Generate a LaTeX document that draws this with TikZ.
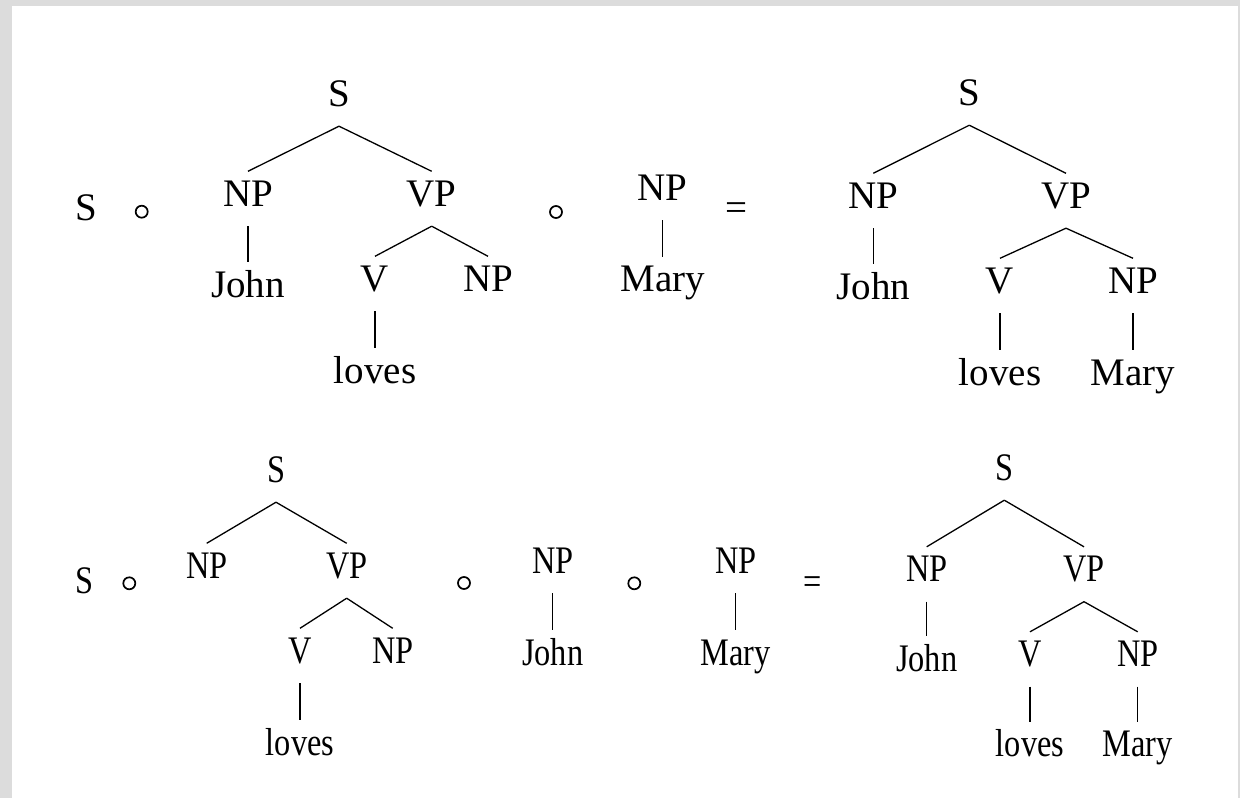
\documentclass[tikz,border=0pt]{standalone}
\usepackage{fontspec}
\setmainfont{Liberation Serif}
\newfontfamily\narrowfont[FakeStretch=0.83]{Liberation Serif}
\definecolor{bggray}{RGB}{220,220,220}
\begin{document}
\begin{tikzpicture}[x=1pt,y=-1pt,
  lbl/.style={font={\fontsize{39}{40}\selectfont}, anchor=base, inner xsep=0pt, inner ysep=6pt, text height=28.5pt, text depth=14pt},
  nlbl/.style={lbl, font={\narrowfont\fontsize{39}{40}\selectfont}},
  circ/.style={circle, draw, line width=1.7pt, minimum size=12pt, inner sep=0pt},
  edge/.style={line width=1.3pt}]
\useasboundingbox (0,0) rectangle (1240,798);
\fill[bggray] (0,0) rectangle (1240,798);
\fill[white] (12,6) rectangle (1238,798);

% ---------- top row ----------
\node[lbl] (aS) at (86.7,220) {S};
\node[circ] (ac1) at (141.7,211.7) {};
% tree 1
\node[lbl] (t1S) at (339,106) {S};
\node[lbl] (t1NP) at (248,206) {NP};
\node[lbl] (t1VP) at (431.7,206) {VP};
\node[lbl] (t1John) at (248,297) {John};
\node[lbl] (t1V) at (375,291) {V};
\node[lbl] (t1NPb) at (488,291) {NP};
\node[lbl] (t1loves) at (375,383) {loves};
\draw[edge] (t1S.south) -- (t1NP.north);
\draw[edge] (t1S.south) -- (t1VP.north);
\draw[edge] (t1NP.south) -- (t1John.north);
\draw[edge] (t1VP.south) -- (t1V.north);
\draw[edge] (t1VP.south) -- (t1NPb.north);
\draw[edge] (t1V.south) -- (t1loves.north);
\node[circ] (ac2) at (556,212) {};
% NP Mary
\node[lbl] (aNPm) at (662.7,200) {NP};
\node[lbl] (aMary) at (662.7,291.7) {Mary};
\draw[edge] (aNPm.south) -- (aMary.north);
\node[lbl] (aeq) at (736,220.5) {=};
% tree 2
\node[lbl] (t2S) at (969.3,105) {S};
\node[lbl] (t2NP) at (873.3,208) {NP};
\node[lbl] (t2VP) at (1066,208) {VP};
\node[lbl] (t2John) at (873.3,299) {John};
\node[lbl] (t2V) at (1000,293) {V};
\node[lbl] (t2NPb) at (1133,293) {NP};
\node[lbl] (t2loves) at (1000,385) {loves};
\node[lbl] (t2Mary) at (1133,385) {Mary};
\draw[edge] (t2S.south) -- (t2NP.north);
\draw[edge] (t2S.south) -- (t2VP.north);
\draw[edge] (t2NP.south) -- (t2John.north);
\draw[edge] (t2VP.south) -- (t2V.north);
\draw[edge] (t2VP.south) -- (t2NPb.north);
\draw[edge] (t2V.south) -- (t2loves.north);
\draw[edge] (t2NPb.south) -- (t2Mary.north);

% ---------- bottom row ----------
\node[nlbl] (bS) at (85,593) {S};
\node[circ] (bc1) at (129.3,583.3) {};
% tree 3
\node[nlbl] (t3S) at (276,482) {S};
\node[nlbl] (t3NP) at (206.7,578) {NP};
\node[nlbl] (t3VP) at (346.7,578) {VP};
\node[nlbl] (t3V) at (300,663) {V};
\node[nlbl] (t3NPb) at (392.7,663) {NP};
\node[nlbl] (t3loves) at (300,755) {loves};
\draw[edge] (t3S.south) -- (t3NP.north);
\draw[edge] (t3S.south) -- (t3VP.north);
\draw[edge] (t3VP.south) -- (t3V.north);
\draw[edge] (t3VP.south) -- (t3NPb.north);
\draw[edge] (t3V.south) -- (t3loves.north);
\node[circ] (bc2) at (464,583) {};
% NP John
\node[nlbl] (bNPj) at (552.7,573) {NP};
\node[nlbl] (bJohn) at (552.7,665) {John};
\draw[edge] (bNPj.south) -- (bJohn.north);
\node[circ] (bc3) at (634.3,583.3) {};
% NP Mary
\node[nlbl] (bNPm) at (735.7,573) {NP};
\node[nlbl] (bMary) at (735.7,665) {Mary};
\draw[edge] (bNPm.south) -- (bMary.north);
\node[nlbl] (beq) at (812.3,594) {=};
% tree 4
\node[nlbl] (t4S) at (1004.3,480) {S};
\node[nlbl] (t4NP) at (926.7,581.5) {NP};
\node[nlbl] (t4VP) at (1084,581.5) {VP};
\node[nlbl] (t4John) at (926.7,671) {John};
\node[nlbl] (t4V) at (1030,666.5) {V};
\node[nlbl] (t4NPb) at (1137.7,666.5) {NP};
\node[nlbl] (t4loves) at (1030,756.7) {loves};
\node[nlbl] (t4Mary) at (1137.7,756.7) {Mary};
\draw[edge] (t4S.south) -- (t4NP.north);
\draw[edge] (t4S.south) -- (t4VP.north);
\draw[edge] (t4NP.south) -- (t4John.north);
\draw[edge] (t4VP.south) -- (t4V.north);
\draw[edge] (t4VP.south) -- (t4NPb.north);
\draw[edge] (t4V.south) -- (t4loves.north);
\draw[edge] (t4NPb.south) -- (t4Mary.north);
\end{tikzpicture}
\end{document}
